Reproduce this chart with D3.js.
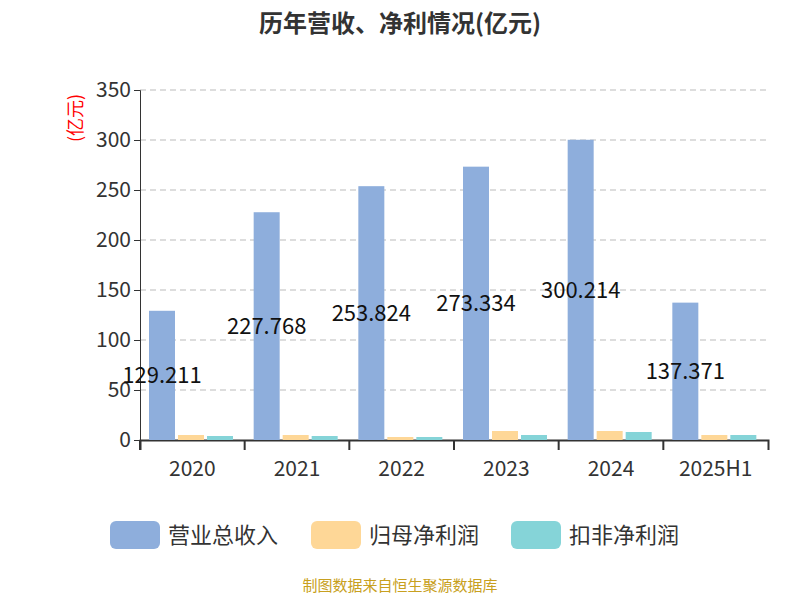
<!DOCTYPE html><html><head><meta charset="utf-8"><script src="https://cdn.jsdelivr.net/npm/d3@7"></script>
<style>body{margin:0;background:#fff}text{font-family:"Noto Sans CJK SC","Noto Sans",sans-serif}</style></head><body><svg id="c" width="800" height="600"></svg>
<script>
const categories=["2020","2021","2022","2023","2024","2025H1"];
const revenue=[129.211,227.768,253.824,273.334,300.214,137.371];
const netProfit=[5,5,3,9,9,5];
const deductedProfit=[4,4,3,5,8,5];
const yTicks=[0,50,100,150,200,250,300,350];
const seriesNames=["营业总收入","归母净利润","扣非净利润"];
const colors=["#8eaedc","#fed797","#85d4d8"];
const svg=d3.select("#c");
const L=140,R=768,T=90,B=440;
const x=d3.scaleBand().domain(categories).range([L,R]);
const y=d3.scaleLinear().domain([0,350]).range([B,T]);
svg.append("text").attr("x",400).attr("y",32).attr("text-anchor","middle").attr("font-size",24).attr("font-weight","bold").attr("fill","#333").text("历年营收、净利情况(亿元)");
yTicks.forEach(t=>{if(t>0)svg.append("line").attr("x1",L).attr("x2",R).attr("y1",y(t)).attr("y2",y(t)).attr("stroke","#bbb").attr("stroke-dasharray","6,4");});
const ya=svg.append("g").attr("transform",`translate(${L},0)`).call(d3.axisLeft(y).tickValues(yTicks).tickSize(6));
ya.selectAll("text").attr("font-size",21).attr("fill","#333");ya.selectAll("line,path").attr("stroke","#333");
const xa=svg.append("g").attr("transform",`translate(0,${B})`).call(d3.axisBottom(x).tickSize(10).tickSizeOuter(10));
xa.selectAll("text").attr("font-size",21).attr("fill","#333").attr("dy","1.1em");xa.selectAll("line,path").attr("stroke","#333").attr("stroke-width",2);
xa.selectAll(".tick line").attr("transform",`translate(${-x.bandwidth()/2},0)`);
svg.append("text").attr("transform",`translate(82,118) rotate(-90)`).attr("text-anchor","middle").attr("font-size",18).attr("fill","red").text("(亿元)");
const bw=26,gap=3;
[revenue,netProfit,deductedProfit].forEach((s,i)=>{
 svg.selectAll(null).data(s).enter().append("rect").attr("x",(d,j)=>x(categories[j])+9+i*(bw+gap)).attr("y",d=>y(d)).attr("width",bw).attr("height",d=>B-y(d)).attr("fill",colors[i]);
});
svg.selectAll(null).data(revenue).enter().append("text").attr("x",(d,j)=>x(categories[j])+9+bw/2).attr("y",d=>y(d/2)).attr("dy","0.35em").attr("text-anchor","middle").attr("font-size",22).attr("fill","#111").text(d=>d.toFixed(3));
const lx=[110,311,511];
seriesNames.forEach((n,i)=>{
 svg.append("rect").attr("x",lx[i]).attr("y",521).attr("width",50).attr("height",28).attr("rx",6).attr("fill",colors[i]);
 svg.append("text").attr("x",lx[i]+58).attr("y",535).attr("dy","0.35em").attr("font-size",22).attr("fill","#333").text(n);
});
svg.append("text").attr("x",400).attr("y",591).attr("text-anchor","middle").attr("font-size",15).attr("fill","#c8a020").text("制图数据来自恒生聚源数据库");
</script></body></html>
